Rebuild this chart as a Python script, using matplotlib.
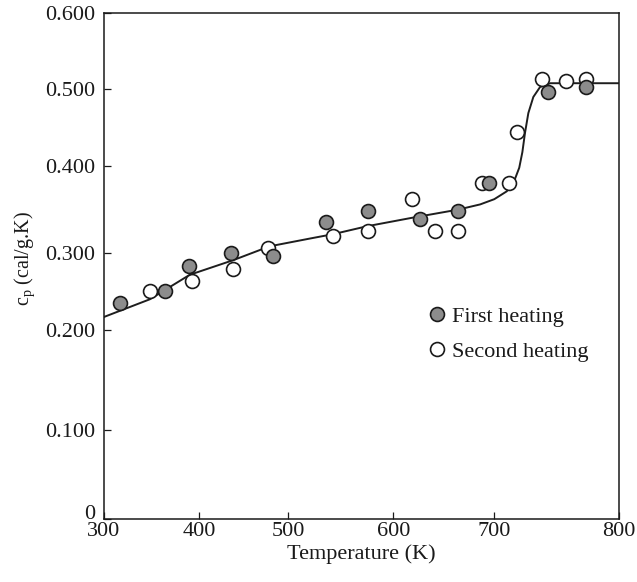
import numpy as np
import matplotlib
matplotlib.use("Agg")
import matplotlib.pyplot as plt
from matplotlib.lines import Line2D
from matplotlib.transforms import ScaledTranslation

plt.rcParams["font.family"] = ["Liberation Serif", "DejaVu Serif"]
plt.rcParams["mathtext.fontset"] = "custom"
plt.rcParams["mathtext.rm"] = "Liberation Serif"
plt.rcParams["mathtext.it"] = "Liberation Serif:italic"

# First heating run
first_T = [316.8, 364.0, 389.5, 435.3, 483.1, 535.6, 575.6, 626.4, 664.1, 695.0, 743.3, 773.6]
first_cp = [0.235, 0.251, 0.283, 0.300, 0.296, 0.336, 0.349, 0.339, 0.349, 0.381, 0.496, 0.503]

# Second heating run
second_T = [348.3, 392.0, 438.2, 476.9, 542.3, 575.6, 618.8, 641.3, 664.1, 687.5, 711.8, 718.4,
            738.0, 757.3, 773.6]
second_cp = [0.251, 0.264, 0.280, 0.306, 0.320, 0.325, 0.362, 0.326, 0.326, 0.381, 0.381, 0.444,
             0.514, 0.511, 0.514]

# Fitted trend curve
curve_T = [300, 348, 390, 438, 479, 521, 543, 575, 620, 664, 686, 700, 710, 716, 720,
           722.5, 724.6, 727.3, 731.3, 736.7, 744.8, 760, 800]
curve_cp = [0.217, 0.240, 0.272, 0.291, 0.308, 0.317, 0.322, 0.331, 0.341, 0.350, 0.356,
            0.362, 0.371, 0.383, 0.398, 0.418, 0.443, 0.469, 0.490, 0.503, 0.508, 0.508, 0.508]

x_ticks = [300, 400, 500, 600, 700, 800]
x_ticklabels = ["300", "400", "500", "600", "700", "800"]
y_ticks = [0.0, 0.1, 0.2, 0.3, 0.4, 0.5, 0.6]
y_ticklabels = ["0", "0.100", "0.200", "0.300", "0.400", "0.500", "0.600"]

# Unevenly spaced tick grid of the printed axes (relative positions of each tick)
x_tick_pos = [0.0, 95.3, 184.3, 289.3, 390.3, 515.0]
y_tick_pos = [0.0, 89.3, 189.3, 266.0, 353.3, 430.0, 506.0]


def piecewise_scale(ticks, pos):
    ticks = np.asarray(ticks, float)
    pos = np.asarray(pos, float)
    s0 = (pos[1] - pos[0]) / (ticks[1] - ticks[0])
    s1 = (pos[-1] - pos[-2]) / (ticks[-1] - ticks[-2])

    def fwd(v):
        v = np.asarray(v, float)
        out = np.interp(v, ticks, pos)
        out = np.where(v < ticks[0], pos[0] + (v - ticks[0]) * s0, out)
        out = np.where(v > ticks[-1], pos[-1] + (v - ticks[-1]) * s1, out)
        return out

    def inv(u):
        u = np.asarray(u, float)
        out = np.interp(u, pos, ticks)
        out = np.where(u < pos[0], ticks[0] + (u - pos[0]) / s0, out)
        out = np.where(u > pos[-1], ticks[-1] + (u - pos[-1]) / s1, out)
        return out

    return fwd, inv


MS = 10.0
MEW = 1.2
EDGE = "#1a1a1a"
FILL = "#8c8c8c"

fig = plt.figure(figsize=(6.37, 5.82), dpi=100)
ax = fig.add_axes([104 / 637, (582 - 519.3) / 582, 515 / 637, 506 / 582])

ax.set_xscale("function", functions=piecewise_scale(x_ticks, x_tick_pos))
ax.set_yscale("function", functions=piecewise_scale(y_ticks, y_tick_pos))

ax.plot(curve_T, curve_cp, color="#1e1e1e", lw=1.4, zorder=1, solid_joinstyle="round")
ax.plot(second_T, second_cp, "o", ms=MS, mfc="white", mec=EDGE, mew=MEW, zorder=2)
ax.plot(first_T, first_cp, "o", ms=MS, mfc=FILL, mec=EDGE, mew=MEW, zorder=3)

ax.set_xlim(300, 800)
ax.set_ylim(0, 0.6)
ax.set_xticks(x_ticks)
ax.set_xticklabels(x_ticklabels)
ax.set_yticks(y_ticks)
ax.set_yticklabels(y_ticklabels)
ax.minorticks_off()

for sp in ax.spines.values():
    sp.set_linewidth(1.1)
    sp.set_color(EDGE)
ax.tick_params(axis="both", direction="in", length=5, width=0.9, color=EDGE,
               labelsize=16, labelcolor=EDGE)
ax.tick_params(axis="x", pad=2)
ax.tick_params(axis="y", pad=6.5)
ax.tick_params(top=False, right=False)

# lift the "0" on the y axis a little so it clears the "300" below it
zero_lbl = ax.get_yticklabels()[0]
zero_lbl.set_transform(zero_lbl.get_transform() + ScaledTranslation(0, 5 / 72, fig.dpi_scale_trans))

ax.set_xlabel("Temperature (K)", fontsize=16, color=EDGE, va="top")
ax.xaxis.set_label_coords(0.5, -0.050)
ax.set_ylabel(r"c$_\mathrm{p}$ (cal/g.K)", fontsize=14.5, color=EDGE)
ax.yaxis.set_label_coords(-0.130, 0.516)

handles = [
    Line2D([], [], ls="none", marker="o", ms=MS, mfc=FILL, mec=EDGE, mew=MEW),
    Line2D([], [], ls="none", marker="o", ms=MS, mfc="white", mec=EDGE, mew=MEW),
]
ax.legend(handles, ["First heating", "Second heating"], loc="center left",
          bbox_to_anchor=(0.6295, 0.366), frameon=False, fontsize=16, handlelength=0.8,
          handletextpad=0.28, labelspacing=0.67, borderpad=0, borderaxespad=0,
          labelcolor=EDGE)

fig.savefig("out.png", dpi=100)
